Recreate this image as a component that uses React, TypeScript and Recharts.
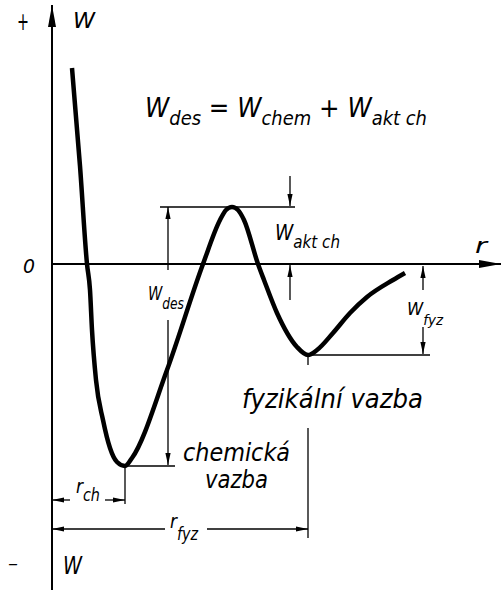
import React from 'react';
import { LineChart, Line, XAxis, YAxis, ReferenceLine, ReferenceDot } from 'recharts';

// potential energy curve W(r)
const distance = [2.0, 2.8, 3.5, 3.8, 4.0, 4.4, 5.1, 5.8, 6.5, 7.3, 8.0, 11.5, 15.1, 16.8, 17.4, 18.0, 18.6, 19.2, 20.6, 21.2, 22.5, 24.5, 25.6, 26.5, 28.1, 29.8, 31.5, 34.1, 35.3];
const energy = [19.6, 9.8, 0, -2.6, -6.6, -11.6, -15.6, -18.4, -19.8, -20.2, -19.4, -10.6, 0, 4.4, 5.4, 5.7, 5.4, 4.4, 0, -1.6, -4.9, -8.3, -9.1, -8.6, -6.9, -4.9, -3.3, -1.6, -0.9];

// dimension lines in data units: [r1, w1, r2, w2, arrow at end]
type Guide = [number, number, number, number, boolean];
const axes: Guide[] = [
  [0, -32.6, 0, 25.9, true],
  [0, 0, 44.9, 0, true],
];
const dims: Guide[] = [
  [10.8, 5.7, 24.3, 5.7, false],
  [23.8, 8.8, 23.8, 5.8, true],
  [11.6, -0.6, 11.6, 5.7, true],
  [11.6, -5.6, 11.6, -20.1, true],
  [7.3, -20.2, 12.3, -20.2, false],
  [23.8, -3.6, 23.8, -0.1, true],
  [37.1, -2.6, 37.1, -0.2, true],
  [37.1, -6.3, 37.1, -9.0, true],
  [25.6, -9.1, 37.8, -9.1, false],
  [25.6, -9.1, 25.6, -10.1, false],
  [25.6, -16.4, 25.6, -27.4, false],
  [7.3, -20.2, 7.3, -24.0, false],
  [1.8, -23.6, 0, -23.6, true],
  [5.3, -23.6, 7.3, -23.6, true],
  [11.3, -26.5, 0, -26.5, true],
  [15.5, -26.5, 25.6, -26.5, true],
];

// text pieces: [text, subscript?]
type Part = [string, boolean];
const formula: Part[] = [['W', false], ['des', true], [' = ', false], ['W', false], ['chem', true], [' + ', false], ['W', false], ['akt ch', true]];
const wAkt: Part[] = [['W', false], ['akt ch', true]];
const wDes: Part[] = [['W', false], ['des', true]];
const wFyz: Part[] = [['W', false], ['fyz', true]];
const rCh: Part[] = [['r', false], ['ch', true]];
const rFyz: Part[] = [['r', false], ['fyz', true]];

const data = distance.map((r, i) => ({ r, w: energy[i] }));

const FONT = '"DejaVu Sans", sans-serif';

const head = (tx: number, ty: number, fx: number, fy: number, len: number, half: number) => {
  const dx = tx - fx;
  const dy = ty - fy;
  const d = Math.hypot(dx, dy) || 1;
  const ux = dx / d;
  const uy = dy / d;
  const bx = tx - ux * len;
  const by = ty - uy * len;
  return `${tx},${ty} ${bx - uy * half},${by + ux * half} ${bx + uy * half},${by - ux * half}`;
};

const guideShape = (arrow: boolean, width: number, len: number, half: number) => (p: any) => {
  const { x1, y1, x2, y2 } = p;
  return (
    <g>
      <line x1={x1} y1={y1} x2={x2} y2={y2} stroke="#000" strokeWidth={width} />
      {arrow && <polygon points={head(x2, y2, x1, y1, len, half)} fill="#000" />}
    </g>
  );
};

const renderGuide = (g: Guide, i: number, axis: boolean) => (
  <ReferenceLine
    key={(axis ? 'a' : 'd') + i}
    segment={[{ x: g[0], y: g[1] }, { x: g[2], y: g[3] }]}
    ifOverflow="visible"
    shape={axis ? guideShape(g[4], 2, 22, 4) : guideShape(g[4], 1.3, 12, 2.6)}
  />
);

const note = (key: string, r: number, w: number, parts: Part[], size: number, sub: number, drop: number, length: number) => (
  <ReferenceDot
    key={key}
    x={r}
    y={w}
    ifOverflow="visible"
    shape={(p: any) => {
      let prevSub = false;
      return (
        <text
          x={p.cx}
          y={p.cy}
          fontFamily={FONT}
          fontStyle="italic"
          fontSize={size}
          fill="#000"
          textLength={length}
          lengthAdjust="spacingAndGlyphs"
          style={{ whiteSpace: 'pre' }}
        >
          {parts.map(([t, isSub], j) => {
            const dy = isSub && !prevSub ? drop : !isSub && prevSub ? -drop : 0;
            prevSub = isSub;
            return (
              <tspan key={j} dy={dy} fontSize={isSub ? sub : size}>
                {t}
              </tspan>
            );
          })}
        </text>
      );
    }}
  />
);

const plain = (t: string): Part[] => [[t, false]];

export default function App() {
  return (
    <div style={{ position: 'absolute', left: 0, top: 0, background: '#fff' }}>
      <LineChart width={504} height={592} data={data} margin={{ top: 0, right: 0, bottom: 0, left: 0 }}>
        <XAxis type="number" dataKey="r" domain={[-5.2, 45.2]} allowDataOverflow hide />
        <YAxis type="number" domain={[-32.8, 26.4]} allowDataOverflow hide />
        {axes.map((g, i) => renderGuide(g, i, true))}
        {dims.map((g, i) => renderGuide(g, i, false))}
        <Line
          type="monotone"
          dataKey="w"
          stroke="#000"
          strokeWidth={4.5}
          strokeLinecap="butt"
          dot={false}
          activeDot={false}
          isAnimationActive={false}
        />
        {note('plus', -3.5, 23.4, plain('+'), 24, 24, 0, 12)}
        {note('wTop', 2.1, 23.6, plain('W'), 21, 21, 0, 22)}
        {note('zero', -2.9, -0.9, plain('0'), 20, 20, 0, 12)}
        {note('r', 42.3, 1.1, plain('r'), 22, 22, 0, 12)}
        {note('minus', -4.4, -30.6, plain('\u2013'), 20, 20, 0, 10)}
        {note('wBottom', 1.1, -31.0, plain('W'), 25, 25, 0, 19)}
        {note('formula', 9.3, 14.7, formula, 26, 19, 8, 282)}
        {note('wAkt', 22.3, 2.4, wAkt, 22, 18, 8, 65)}
        {note('wDes', 9.6, -3.6, wDes, 19, 16, 9, 36)}
        {note('wFyz', 35.5, -5.1, wFyz, 17, 14, 10, 36)}
        {note('rCh', 2.4, -22.9, rCh, 20, 17, 8, 24)}
        {note('rFyz', 11.8, -26.4, rFyz, 20, 17, 12, 28)}
        {note('chem', 13.1, -19.7, plain('chemická'), 24, 24, 0, 107)}
        {note('vazba', 15.3, -22.4, plain('vazba'), 24, 24, 0, 63)}
        {note('fyz', 19.0, -14.4, plain('fyzikální vazba'), 26, 26, 0, 181)}
      </LineChart>
    </div>
  );
}
